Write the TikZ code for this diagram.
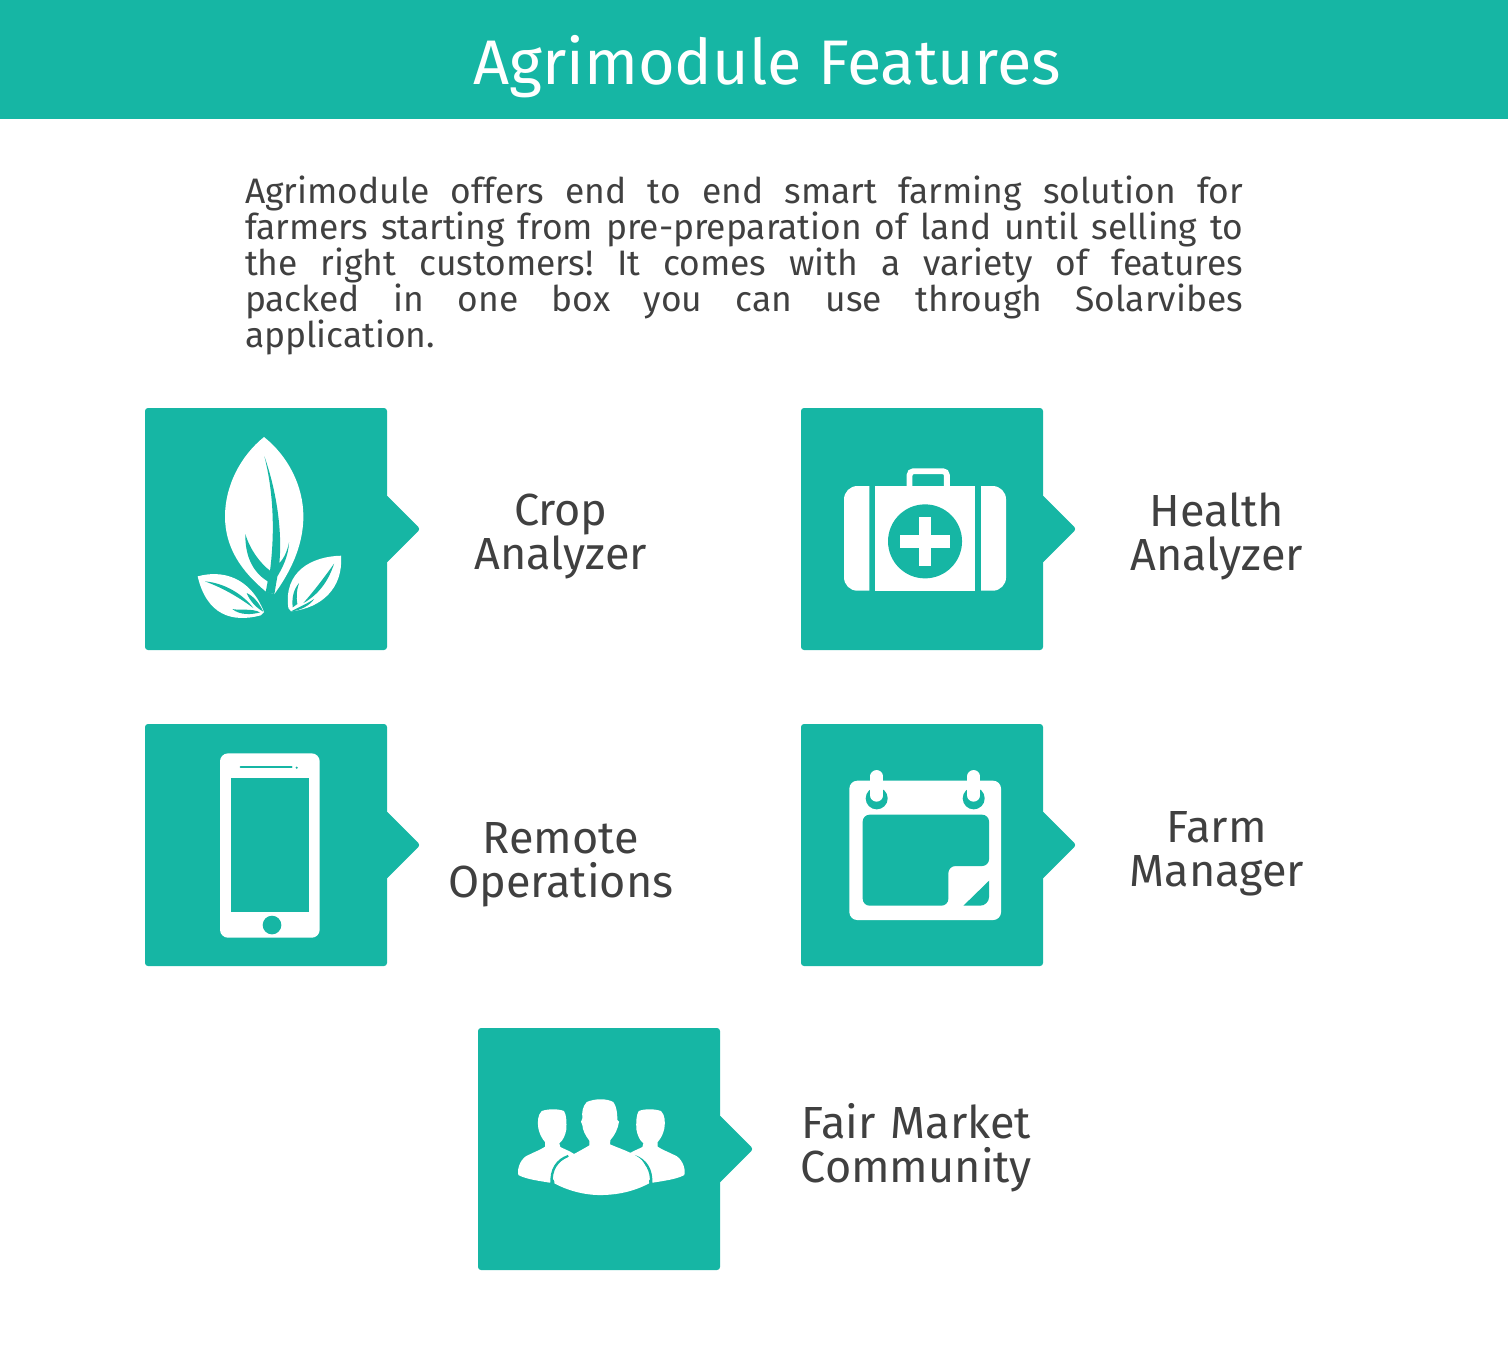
\documentclass[tikz,border=0pt]{standalone}
\usepackage{fontspec}
\setmainfont{Fira Sans}
\usepackage{tikz}
\usetikzlibrary{positioning}
\definecolor{agriteal}{HTML}{16B6A4}
\definecolor{agritext}{HTML}{404040}
\frenchspacing
\begin{document}
\begin{tikzpicture}[x=.5pt,y=-.5pt,
featbox/.style={fill=agriteal,rounded corners=1.5pt,minimum size=121pt,inner sep=0pt},
feattab/.style={fill=agriteal,rounded corners=1.5pt},
featlabel/.style={text=agritext,text width=120pt,align=center,inner sep=0pt,
    font=\fontsize{22.5}{22}\selectfont},
icon/.style={shift={#1},x=.1667pt,y=-.1667pt}]
\useasboundingbox (0,0) rectangle (1508,1350);
\node (banner) [fill=agriteal,minimum width=754pt,minimum height=59.5pt,inner sep=0pt] at (754,59.5) {};
\node (title) [text=white,inner sep=0pt,font=\fontsize{31.5}{34}\selectfont] at (767,67) {Agrimodule Features};
\node (intro) [text=agritext,text width=499pt,align=justify,inner sep=0pt,font=\fontsize{17.7}{18}\selectfont] at (744,265) {%
Agrimodule offers end to end smart farming solution for\linebreak
farmers starting from pre-preparation of land until selling to\linebreak
the right customers! It comes with a variety of features\linebreak
packed in one box you can use through Solarvibes\linebreak
application.};
% boxes
\node (crop) [featbox] at (266,529) {};
\node (health) [featbox] at (922,529) {};
\node (remote) [featbox] at (266,845) {};
\node (farm) [featbox] at (922,845) {};
\node (fair) [featbox] at (599,1149) {};
\foreach \b in {crop,health,remote,farm,fair}
    \fill [feattab] (\b.east) ++(-2,-35) -- ++(35,35) -- ++(-35,35) -- cycle;
% labels
\node (croplab) [featlabel,right=26.5pt of crop,yshift=-4pt] {Crop\\Analyzer};
\node (healthlab) [featlabel,right=26.5pt of health,yshift=-3.5pt] {Health\\Analyzer};
\node (remotelab) [featlabel,right=26.5pt of remote,yshift=-10pt] {Remote\\Operations};
\node (farmlab) [featlabel,right=26.5pt of farm,yshift=-4.5pt] {Farm\\Manager};
\node (fairlab) [featlabel,right=37.75pt of fair,yshift=.5pt] {Fair Market\\Community};
% leaves
\begin{scope}[icon={(145,408)}]
\fill [white] (357,87) .. controls (430,145) and (475,235) .. (475,325)
    .. controls (475,420) and (430,500) .. (388,558) -- (362,550)
    .. controls (290,490) and (240,420) .. (240,325)
    .. controls (240,235) and (285,145) .. (357,87) -- cycle;
\fill [agriteal] (358,145) .. controls (395,250) and (412,370) .. (403,465)
    .. controls (418,450) and (428,425) .. (432,403)
    .. controls (430,445) and (412,480) .. (397,505) -- (388,558) -- (362,552) -- (368,520)
    .. controls (320,490) and (300,440) .. (301,378)
    .. controls (315,425) and (345,465) .. (375,488)
    .. controls (390,370) and (385,250) .. (358,145) -- cycle;
\fill [white] (158,505) .. controls (230,485) and (315,505) .. (357,612) -- (347,622)
    .. controls (260,645) and (185,620) .. (158,505) -- cycle;
\fill [agriteal] (180,520) .. controls (240,525) and (295,560) .. (325,600)
    .. controls (285,570) and (235,540) .. (180,520) -- cycle;
\fill [agriteal] (262,603) .. controls (290,608) and (320,600) .. (345,613)
    .. controls (320,620) and (285,622) .. (262,603) -- cycle;
\fill [agriteal] (305,555) .. controls (328,565) and (345,590) .. (355,611)
    .. controls (335,600) and (315,580) .. (305,555) -- cycle;
\fill [white] (588,443) .. controls (500,445) and (415,490) .. (430,600)
    -- (438,610) .. controls (530,600) and (595,540) .. (588,443) -- cycle;
\fill [agriteal] (567,467) .. controls (540,505) and (510,545) .. (475,585)
    .. controls (520,560) and (550,520) .. (567,467) -- cycle;
\fill [agriteal] (462,525) .. controls (445,545) and (440,570) .. (443,598)
    -- (457,588) .. controls (453,565) and (455,545) .. (462,525) -- cycle;
\fill [agriteal] (438,610) .. controls (460,598) and (485,588) .. (507,573)
    .. controls (495,592) and (465,608) .. (438,610) -- cycle;
\end{scope}
% kit
\begin{scope}[icon={(800,440)}]
\draw [white,line width=2.9pt,rounded corners=2pt] (328.5,138) -- (328.5,93.5) -- (440.5,93.5) -- (440.5,138);
\fill [white] (208,138) -- (172,138) .. controls (150,138) and (132,156) .. (132,178)
    -- (132,412) .. controls (132,434) and (150,452) .. (172,452) -- (208,452) -- cycle;
\fill [white] (226,138) rectangle (525,452);
\fill [white] (543,138) -- (578,138) .. controls (600,138) and (618,156) .. (618,178)
    -- (618,412) .. controls (618,434) and (600,452) .. (578,452) -- (543,452) -- cycle;
\fill [agriteal] (375,304) circle (111);
\fill [white] (300,285) rectangle (450,323);
\fill [white] (356,230) rectangle (394,378);
\end{scope}
% phone
\begin{scope}[icon={(200,740)}]
\fill [white,rounded corners=4pt] (60,40) rectangle (359,593);
\fill [agriteal] (93,115) rectangle (327,517);
\fill [agriteal] (216,555) circle (28);
\draw [agriteal,line width=1pt,line cap=round] (122,82) -- (275,82);
\fill [agriteal] (290,83) circle (3.5);
\end{scope}
% calendar
\begin{scope}[icon={(800,750)}]
\fill [white,rounded corners=4pt] (148,92) rectangle (603,510);
\fill [agriteal,rounded corners=3.5pt] (188,194) -- (567,194) -- (567,348) -- (445,348) -- (445,467) -- (188,467) -- cycle;
\fill [agriteal] (567,392) -- (567,440) .. controls (567,455) and (555,467) .. (540,467) -- (490,467) -- cycle;
\foreach \cx in {230,521} {
    \fill [agriteal] (\cx,145) circle (33);
    \draw [white,line width=6.3pt,line cap=round] (\cx,79) -- (\cx,136);
}
\end{scope}
% people
\begin{scope}[icon={(500,1080)}]
\foreach \s in {1,-1} {
\begin{scope}[shift={(304,0)},xscale=\s,shift={(-304,0)}]
\fill [white] (125,93) .. controls (145,86) and (175,86) .. (192,93)
    .. controls (200,105) and (200,130) .. (199,148)
    .. controls (196,165) and (190,180) .. (178,190) -- (181,201)
    .. controls (210,215) and (240,225) .. (225,240)
    -- (150,308) .. controls (115,302) and (80,298) .. (55,285)
    .. controls (50,262) and (65,232) .. (85,225)
    .. controls (105,215) and (120,210) .. (135,200) -- (135,186)
    .. controls (125,175) and (118,160) .. (115,145)
    .. controls (112,125) and (113,105) .. (125,93) -- cycle;
\draw [agriteal,line width=1.2pt] (155,310) .. controls (152,270) and (170,240) .. (205,228);
\end{scope}}
\fill [white] (260,66) .. controls (285,55) and (320,55) .. (340,66)
    .. controls (350,80) and (352,100) .. (352,120) -- (357,125)
    .. controls (354,145) and (345,165) .. (331,180) -- (330,193)
    .. controls (370,210) and (420,225) .. (432,250)
    .. controls (442,270) and (448,290) .. (447,310)
    .. controls (400,335) and (350,345) .. (300,345)
    .. controls (250,345) and (200,330) .. (163,310)
    .. controls (160,280) and (170,255) .. (190,240)
    .. controls (215,225) and (245,210) .. (268,196) -- (268,182)
    .. controls (255,165) and (248,150) .. (247,135) -- (243,125) -- (247,115)
    .. controls (245,95) and (248,80) .. (260,66) -- cycle;
\end{scope}
\end{tikzpicture}
\end{document}
